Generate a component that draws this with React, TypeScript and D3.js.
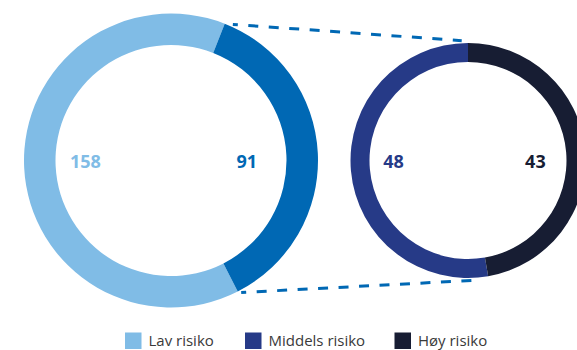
import React from "react";
import * as d3 from "d3";

const leftCategories = ["Lav risiko", "Middels og høy risiko"];
const leftValues = [158, 91];
const rightCategories = ["Middels risiko", "Høy risiko"];
const rightValues = [48, 43];
const legendLabels = ["Lav risiko", "Middels risiko", "Høy risiko"];

const leftColors = ["#80bce6", "#0068b4"];
const rightColors = ["#263a87", "#171d33"];
const legendColors = ["#80bce6", "#263a87", "#171d33"];

const W = 577;
const H = 350;
const deg = Math.PI / 180;

const L = { cx: 171, cy: 160.5, ro: 147, ri: 115.5 };
const R = { cx: 468, cy: 160.5, ro: 117.5, ri: 98.5 };

export default function App() {
  const leftStart = 153 * deg;
  const leftPie = d3
    .pie<number>()
    .sort(null)
    .value((d) => d)
    .startAngle(leftStart)
    .endAngle(leftStart + 2 * Math.PI)(leftValues);

  const rTotal = d3.sum(rightValues);
  const rightStart = (2 * Math.PI * rightValues[1]) / rTotal;
  const rightPie = d3
    .pie<number>()
    .sort(null)
    .value((d) => d)
    .startAngle(rightStart)
    .endAngle(rightStart + 2 * Math.PI)(rightValues);

  const leftArc = d3.arc<d3.PieArcDatum<number>>().innerRadius(L.ri).outerRadius(L.ro);
  const rightArc = d3.arc<d3.PieArcDatum<number>>().innerRadius(R.ri).outerRadius(R.ro);

  const darkStart = leftPie[1].startAngle;
  const darkEnd = leftPie[1].endAngle;
  const pt = (c: typeof L, a: number, r: number): [number, number] => [
    c.cx + r * Math.sin(a),
    c.cy - r * Math.cos(a),
  ];
  const a0 = darkStart > Math.PI * 2 ? darkStart - 2 * Math.PI : darkStart;
  const a1 = darkEnd > Math.PI * 2 ? darkEnd - 2 * Math.PI : darkEnd;
  const top1 = pt(L, a0 + 3 * deg, L.ro + 2.5);
  const top2 = pt(R, -3 * deg, R.ro + 2.5);
  const bot1 = pt(L, a1 - 1 * deg, L.ro + 2.5);
  const bot2 = pt(R, 177.5 * deg, R.ro + 2.5);

  const numFont = "'Open Sans', sans-serif";
  const legendX = [125, 245, 394.5];

  return (
    <svg
      width={W}
      height={H}
      style={{ position: "fixed", left: 0, top: 0, background: "#fff" }}
    >
      <g transform={`translate(${L.cx},${L.cy})`}>
        {leftPie.map((d, i) => (
          <path key={leftCategories[i]} d={leftArc(d) || ""} fill={leftColors[i]} />
        ))}
      </g>
      <g transform={`translate(${R.cx},${R.cy})`}>
        {rightPie.map((d, i) => (
          <path key={rightCategories[i]} d={rightArc(d) || ""} fill={rightColors[i]} />
        ))}
      </g>
      <line
        x1={top1[0]}
        y1={top1[1]}
        x2={top2[0]}
        y2={top2[1]}
        stroke="#0068b4"
        strokeWidth={3}
        strokeDasharray="10 10.5"
        strokeDashoffset={5}
      />
      <line
        x1={bot1[0]}
        y1={bot1[1]}
        x2={bot2[0]}
        y2={bot2[1]}
        stroke="#0068b4"
        strokeWidth={3}
        strokeDasharray="10 10.5"
        strokeDashoffset={5}
      />
      <g fontFamily={numFont} fontWeight={700} fontSize={18}>
        <text x={L.cx - 101} y={168} fill={leftColors[0]} textAnchor="start">
          {leftValues[0]}
        </text>
        <text x={L.cx + 86} y={168} fill={leftColors[1]} textAnchor="end">
          {leftValues[1]}
        </text>
        <text x={R.cx - 84.7} y={167.7} fill={rightColors[0]} textAnchor="start">
          {rightValues[0]}
        </text>
        <text x={R.cx + 77.7} y={167.7} fill={rightColors[1]} textAnchor="end">
          {rightValues[1]}
        </text>
      </g>
      <g fontFamily={numFont} fontSize={15} fill="#3a3a3a">
        {legendLabels.map((lab, i) => (
          <g key={lab} transform={`translate(${legendX[i]},332.5)`}>
            <rect x={0} y={0} width={16.5} height={16.5} fill={legendColors[i]} />
            <text x={23.5} y={13}>
              {lab}
            </text>
          </g>
        ))}
      </g>
    </svg>
  );
}
